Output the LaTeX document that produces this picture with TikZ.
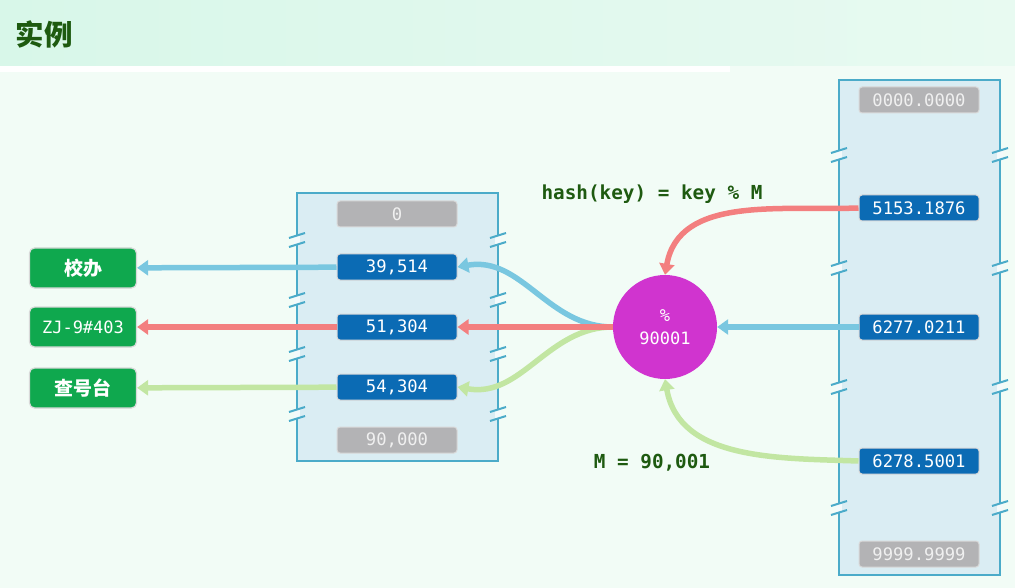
\documentclass[tikz,border=0pt]{standalone}
\usepackage{fontspec}
\setmonofont{DejaVu Sans Mono}
\newfontfamily\cjk{Noto Sans CJK SC}
\usetikzlibrary{arrows.meta}

\definecolor{bgc}{HTML}{F2FCF6}
\definecolor{headl}{HTML}{D8F7E9}
\definecolor{headr}{HTML}{E8FAF1}
\definecolor{titlec}{HTML}{1E5A10}
\definecolor{boxf}{HTML}{DAEDF3}
\definecolor{boxc}{HTML}{4BABC9}
\definecolor{cellf}{HTML}{0B6BB4}
\definecolor{greyf}{HTML}{B3B3B5}
\definecolor{tagf}{HTML}{0FA84E}
\definecolor{blueln}{HTML}{79C7E0}
\definecolor{redln}{HTML}{F37F7F}
\definecolor{greenln}{HTML}{C2E6A2}
\definecolor{modf}{HTML}{D034CF}

% break mark on a box edge
\newcommand\gapmark[2]{%
  \fill[white!70!boxf] (#1-3,#2-5) rectangle (#1+3,#2+5);
  \draw[boxc,line width=2] (#1-8,#2-2) -- (#1+8,#2-7);
  \draw[boxc,line width=2] (#1-8,#2+7) -- (#1+8,#2+2);
}

\begin{document}
\begin{tikzpicture}[x=1pt,y=-1pt]

        \fill[bgc] (0,0) rectangle (1015,588);
        \shade[left color=headl,right color=headr] (0,0) rectangle (1015,66);
        \fill[white] (0,66) rectangle (730,72);
        \node[anchor=west,text=titlec,font=\cjk\bfseries\fontsize{28.5}{32}\selectfont] (title) at (12,34) {实例};

        % the two tables
        \draw[boxc,line width=2.5,fill=boxf] (297,193) rectangle (498,461);
        \draw[boxc,line width=2.5,fill=boxf] (839,80) rectangle (1000,575);
        \foreach \y in {240,300,354,414} {\gapmark{297}{\y}\gapmark{498}{\y}}
        \foreach \y in {155,268,387,508} {\gapmark{839}{\y}\gapmark{1000}{\y}}

        \begin{scope}[every node/.style={rounded corners=3,minimum width=120,minimum height=26,
            draw=white!85!black,line width=1,text=white,font=\ttfamily\fontsize{17.2}{19}\selectfont}]
          \node[fill=greyf,text=white!94!black] (l0) at (397,214) {0};
          \node[fill=cellf] (l1) at (397,267) {39,514};
          \node[fill=cellf] (l2) at (397,327) {51,304};
          \node[fill=cellf] (l3) at (397,387) {54,304};
          \node[fill=greyf,text=white!94!black] (l4) at (397,440) {90,000};
          \node[fill=greyf,text=white!94!black] (r0) at (919,100) {0000.0000};
          \node[fill=cellf] (r1) at (919,208) {5153.1876};
          \node[fill=cellf] (r2) at (919,327) {6277.0211};
          \node[fill=cellf] (r3) at (919,461) {6278.5001};
          \node[fill=greyf,text=white!94!black] (r4) at (919,554) {9999.9999};
        \end{scope}

        \begin{scope}[every node/.style={rounded corners=5,minimum width=107,minimum height=40,
            fill=tagf,draw=white!85!black,line width=1.2,text=white}]
          \node[font=\cjk\bfseries\fontsize{19}{22}\selectfont] (t1) at (83,268) {校办};
          \node[font=\ttfamily\fontsize{17}{19}\selectfont] (t2) at (83,327) {ZJ-9\#403};
          \node[font=\cjk\bfseries\fontsize{19}{22}\selectfont] (t3) at (83,388) {查号台};
        \end{scope}

        \node[circle,fill=modf,minimum size=104,inner sep=0,text=white,align=center,
          font=\ttfamily\fontsize{17}{23}\selectfont] (m) at (665,327) {\%\\90001};

        \node[text=titlec,font=\ttfamily\bfseries\fontsize{19.3}{22}\selectfont] (hash) at (652,194) {hash(key) = key \% M};
        \node[text=titlec,font=\ttfamily\bfseries\fontsize{19.3}{22}\selectfont] (mval) at (652,463) {M = 90,001};

        \begin{scope}[every edge/.style={draw,line width=5.5,-{Triangle[length=11,width=15]}}]
          \path (l1) edge[blueln] (t1);
          \path (l2) edge[redln] (t2);
          \path (l3) edge[greenln] (t3);
          \path (m.west) edge[blueln,out=180,in=10] (l1.east);
          \path (m.west) edge[greenln,out=180,in=-10] (l3.east);
          \path (m.west) edge[redln] (l2.east);
          \path (r1.west) edge[redln,out=182,in=80] (m.north);
          \path (r2.west) edge[blueln] (m.east);
          \path (r3.west) edge[greenln,out=178,in=-80] (m.south);
        \end{scope}

      \end{tikzpicture}
\end{document}
